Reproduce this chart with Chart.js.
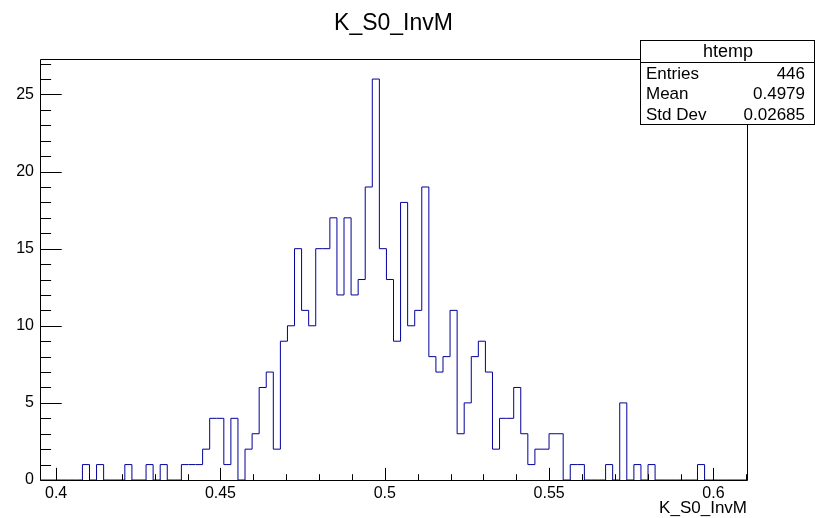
<!DOCTYPE html>
<html>
<head>
<meta charset="utf-8">
<script src="https://cdn.jsdelivr.net/npm/chart.js@4.4.0/dist/chart.umd.min.js"></script>
<style>
  html, body { margin: 0; padding: 0; background: #fff; }
  canvas { display: block; }
</style>
</head>
<body>
<canvas id="hist" width="815" height="518"></canvas>
<script>
// histogram range (100 bins)
const X_MIN = 0.3951;
const X_MAX = 0.6102;
const N_BINS = 100;
const Y_MAX = 27.3;

// bin contents, left to right
const binCounts = [
  0, 0, 0, 0, 0, 0, 1, 0, 1, 0,
  0, 0, 1, 0, 0, 1, 0, 1, 0, 0,
  1, 1, 1, 2, 4, 4, 1, 4, 0, 2,
  3, 6, 7, 2, 9, 10, 15, 11, 10, 15,
  15, 17, 12, 17, 12, 13, 19, 26, 15, 13,
  9, 18, 10, 11, 19, 8, 7, 8, 11, 3,
  5, 8, 9, 7, 2, 4, 4, 6, 3, 1,
  2, 2, 3, 3, 0, 1, 1, 0, 0, 0,
  1, 0, 5, 0, 1, 0, 1, 0, 0, 0,
  0, 0, 0, 1, 0, 0, 0, 0, 0, 0
];

const xTickLabels = [0.4, 0.45, 0.5, 0.55, 0.6];
const yTickLabels = [0, 5, 10, 15, 20, 25];

const statsTitle = 'htemp';
const statsNames = ['Entries', 'Mean', 'Std Dev'];
const statsValues = ['446', '0.4979', '0.02685'];

const FONT = "'Liberation Sans', Arial, Helvetica, sans-serif";

// outline points: each bin edge carries the count of the bin that starts there
const binWidth = (X_MAX - X_MIN) / N_BINS;
const outline = [{ x: X_MIN, y: 0 }];
binCounts.forEach((c, i) => outline.push({ x: X_MIN + i * binWidth, y: c }));
outline.push({ x: X_MAX, y: binCounts[N_BINS - 1] });
outline.push({ x: X_MAX, y: 0 });

// ROOT style frame with inward ticks + stats box
const rootFrame = {
  id: 'rootFrame',
  afterDatasetsDraw(chart) {
    const { ctx, chartArea: a, scales: { x, y } } = chart;
    ctx.save();
    ctx.strokeStyle = '#000';
    ctx.lineWidth = 1;
    ctx.beginPath();
    const L = Math.round(a.left) + 0.5, R = Math.round(a.right) + 0.5;
    const T = Math.round(a.top) + 0.5, B = Math.round(a.bottom) + 0.5;
    ctx.rect(L, T, R - L, B - T);

    const hLen = a.bottom - a.top, wLen = a.right - a.left;
    for (let k = 40; k <= 61; k++) {
      const v = k / 100;
      const px = Math.round(x.getPixelForValue(v)) + 0.5;
      const len = (k % 5 === 0) ? 0.03 * hLen : 0.015 * hLen;
      ctx.moveTo(px, B);
      ctx.lineTo(px, B - len);
    }
    for (let v = 0; v <= 27; v++) {
      const py = Math.round(y.getPixelForValue(v)) + 0.5;
      const len = (v % 5 === 0) ? 0.03 * wLen : 0.015 * wLen;
      ctx.moveTo(L, py);
      ctx.lineTo(L + len, py);
    }
    ctx.stroke();
    ctx.restore();
  },
  afterDraw(chart) {
    const ctx = chart.ctx;
    const bx = 640.5, by = 40.5, bw = 174, bh = 84;
    ctx.save();
    ctx.fillStyle = '#fff';
    ctx.fillRect(bx, by, bw, bh);
    ctx.strokeStyle = '#000';
    ctx.lineWidth = 1;
    ctx.strokeRect(bx, by, bw, bh);
    ctx.beginPath();
    ctx.moveTo(bx, 62.5);
    ctx.lineTo(bx + bw, 62.5);
    ctx.stroke();

    ctx.fillStyle = '#000';
    ctx.textBaseline = 'middle';
    ctx.textAlign = 'center';
    ctx.font = '18px ' + FONT;
    ctx.fillText(statsTitle, 728, 52);
    ctx.font = '17px ' + FONT;
    statsNames.forEach((n, i) => {
      const ty = 74 + i * 20.6;
      ctx.textAlign = 'left';
      ctx.fillText(n, 646, ty);
      ctx.textAlign = 'right';
      ctx.fillText(statsValues[i], 805, ty);
    });
    ctx.restore();
  }
};

new Chart(document.getElementById('hist'), {
  type: 'line',
  data: {
    datasets: [{
      label: statsTitle,
      data: outline,
      stepped: true,
      borderColor: '#000099',
      borderWidth: 1,
      pointRadius: 0,
      fill: false,
      tension: 0
    }]
  },
  options: {
    responsive: false,
    animation: false,
    devicePixelRatio: 1,
    layout: { padding: { left: 0, right: 68, top: 0, bottom: 0 } },
    plugins: {
      legend: { display: false },
      tooltip: { enabled: false },
      title: {
        display: true,
        text: 'K_S0_InvM',
        fullSize: false,
        color: '#000',
        font: { family: FONT, size: 23, weight: 'normal' },
        padding: { top: 10, bottom: 21.4 }
      }
    },
    scales: {
      x: {
        type: 'linear',
        min: X_MIN,
        max: X_MAX,
        grid: { display: false, drawTicks: false },
        border: { display: false },
        afterBuildTicks: s => { s.ticks = xTickLabels.map(v => ({ value: v })); },
        afterFit: s => { s.height = 38; },
        ticks: {
          color: '#000',
          font: { family: FONT, size: 16 },
          padding: 4,
          autoSkip: false,
          maxRotation: 0,
          callback: v => String(+v.toFixed(2))
        },
        title: {
          display: true,
          text: 'K_S0_InvM',
          align: 'end',
          color: '#000',
          font: { family: FONT, size: 17, lineHeight: 1.1 },
          padding: { top: 0, bottom: 0 }
        }
      },
      y: {
        min: 0,
        max: Y_MAX,
        grid: { display: false, drawTicks: false },
        border: { display: false },
        afterBuildTicks: s => { s.ticks = yTickLabels.map(v => ({ value: v })); },
        afterFit: s => { s.width = 40; },
        ticks: {
          color: '#000',
          font: { family: FONT, size: 16 },
          padding: 6,
          callback: v => String(v)
        }
      }
    }
  },
  plugins: [rootFrame]
});
</script>
</body>
</html>
